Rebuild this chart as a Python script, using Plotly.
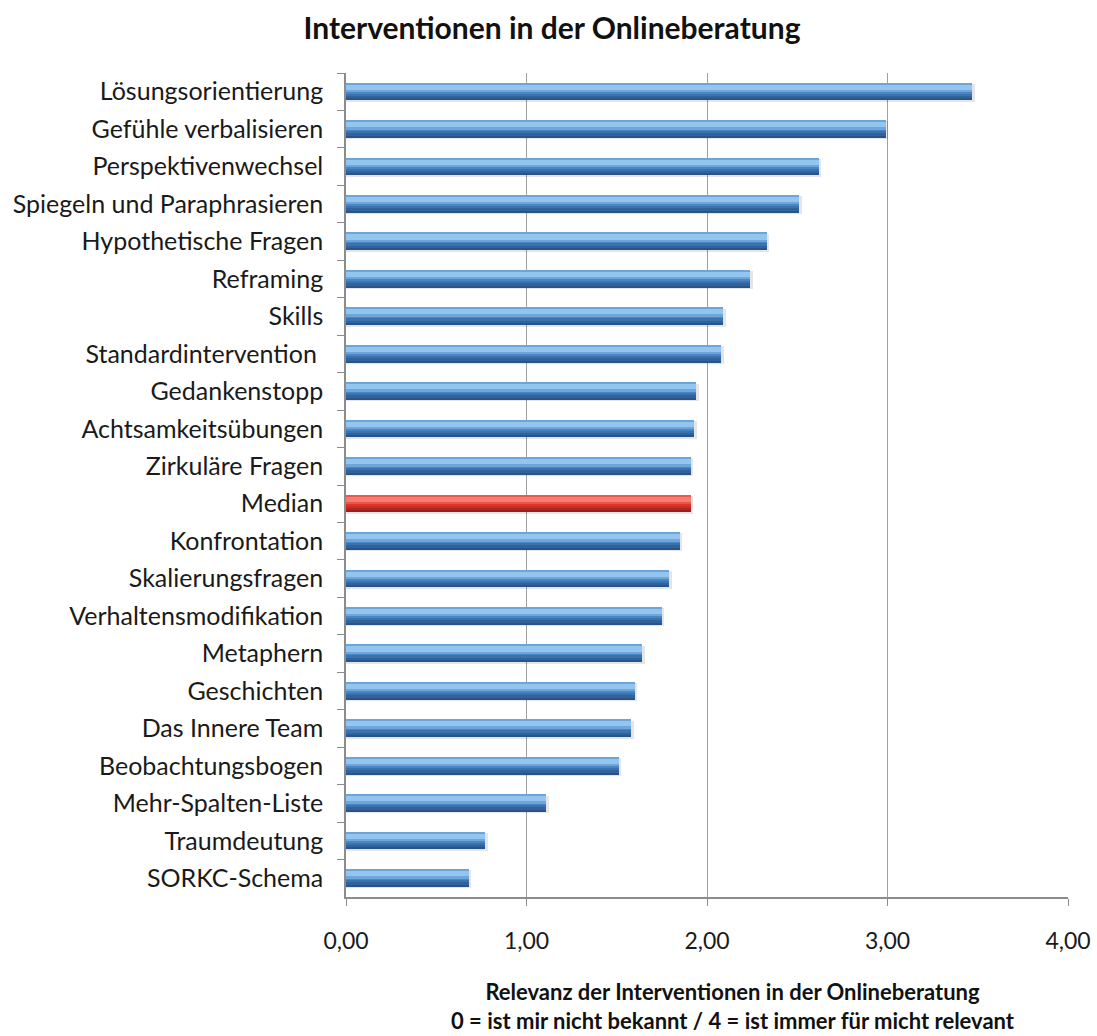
import plotly.graph_objects as go

categories = [
    "Lösungsorientierung", "Gefühle verbalisieren", "Perspektivenwechsel",
    "Spiegeln und Paraphrasieren", "Hypothetische Fragen", "Reframing", "Skills",
    "Standardintervention ", "Gedankenstopp", "Achtsamkeitsübungen",
    "Zirkuläre Fragen", "Median", "Konfrontation", "Skalierungsfragen",
    "Verhaltensmodifikation", "Metaphern", "Geschichten", "Das Innere Team",
    "Beobachtungsbogen", "Mehr-Spalten-Liste", "Traumdeutung", "SORKC-Schema",
]
values = [
    3.47, 2.99, 2.62, 2.51, 2.33, 2.24, 2.09, 2.08, 1.94, 1.93, 1.91, 1.91,
    1.85, 1.79, 1.75, 1.64, 1.60, 1.58, 1.51, 1.11, 0.77, 0.68,
]
x_ticks = [0, 1, 2, 3, 4]

title = "Interventionen in der Onlineberatung"
x_title_1 = "Relevanz der Interventionen in der Onlineberatung"
x_title_2 = "0 = ist mir nicht bekannt / 4 = ist immer für micht relevant"

FONT = "Lato"


def pick(c, blue, red):
    return red if c == "Median" else blue


# (colour for blue bars, colour for the median bar, offset, width)
bands = [
    ("#4a86c6", "#e2342b", -0.23, 0.46),   # body
    ("#6da5da", "#ec5a4f", -0.23, 0.04),   # top edge
    ("#93c6ee", "#f47e72", -0.19, 0.15),   # highlight
    ("#6ea6db", "#ea5548", -0.04, 0.05),   # transition
    ("#3b73ae", "#c92d25", 0.05, 0.06),    # lower mid
    ("#31639a", "#b42520", 0.11, 0.08),    # dark
    ("#28548a", "#9c1f1b", 0.19, 0.04),    # bottom edge
]

fig = go.Figure()
# soft shadow
fig.add_trace(go.Bar(y=categories, x=[v + 0.014 for v in values], orientation="h",
                     marker=dict(color=["rgba(0,0,0,0.10)"] * len(categories),
                                 line=dict(width=0)),
                     width=0.48, offset=-0.21, hoverinfo="skip", showlegend=False))
for i, (cb, cr, off, w) in enumerate(bands):
    fig.add_trace(go.Bar(y=categories, x=values, orientation="h",
                         marker=dict(color=[pick(c, cb, cr) for c in categories],
                                     line=dict(width=0)),
                         width=w, offset=off, showlegend=False,
                         hoverinfo=None if i == 0 else "skip"))

fig.update_layout(
    width=1097, height=1036,
    margin=dict(l=346, r=29, t=73, b=139),
    barmode="overlay",
    bargap=0,
    plot_bgcolor="white", paper_bgcolor="white",
    separators=",.",
    font=dict(family=FONT, size=24, color="#1a1a1a"),
    title=dict(text="<b>" + title + "</b>", x=552 / 1097, xanchor="center",
               y=1 - 28 / 1036, yanchor="middle",
               font=dict(family=FONT, size=30, color="#111111")),
    xaxis=dict(range=[0, 4], tickvals=x_ticks, tickformat=".2f",
               showgrid=True, gridcolor="#a0a0a0", gridwidth=1.2,
               showline=True, linecolor="#8c8c8c", linewidth=1.5,
               ticks="outside", ticklen=7, tickcolor="#8c8c8c",
               ticklabelstandoff=16, zeroline=False, automargin=False,
               tickfont=dict(family=FONT, size=23, color="#1a1a1a"),
               fixedrange=True),
    yaxis=dict(categoryorder="array", categoryarray=categories, autorange="reversed",
               showline=True, linecolor="#8c8c8c", linewidth=1.5,
               ticks="outside", ticklen=7, tickcolor="#8c8c8c", tickson="boundaries",
               ticklabelstandoff=16, showgrid=False, automargin=False,
               tickfont=dict(family=FONT, size=25, color="#1a1a1a"),
               fixedrange=True),
    annotations=[
        dict(text="<b>" + x_title_1 + "</b><br><b>" + x_title_2 + "</b>",
             xref="paper", yref="paper", x=(733 - 346) / 722, y=-(1006 - 897) / 824,
             xanchor="center", yanchor="middle", showarrow=False, align="center",
             font=dict(family=FONT, size=22, color="#111111")),
    ],
)

fig.write_html("out.html")
